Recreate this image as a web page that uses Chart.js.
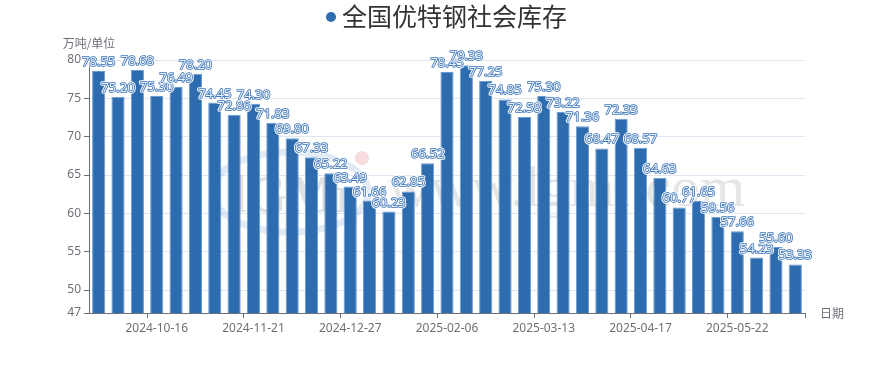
<!DOCTYPE html>
<html>
<head>
<meta charset="utf-8">
<script src="https://cdn.jsdelivr.net/npm/chart.js@4"></script>
<style>
  html, body { margin: 0; padding: 0; background: #fff; }
  #wrap { width: 894px; height: 384px; }
</style>
</head>
<body>
<div id="wrap"><canvas id="c" width="894" height="384"></canvas></div>
<script>
const titleText = "全国优特钢社会库存";
const yAxisName = "万吨/单位";
const xAxisName = "日期";
const categories = [
  "2024-09-19","2024-09-26","2024-10-10","2024-10-16","2024-10-24","2024-10-31","2024-11-07","2024-11-14",
  "2024-11-21","2024-11-28","2024-12-05","2024-12-12","2024-12-19","2024-12-27","2025-01-03","2025-01-09",
  "2025-01-16","2025-01-23","2025-02-06","2025-02-13","2025-02-20","2025-02-27","2025-03-06","2025-03-13",
  "2025-03-20","2025-03-27","2025-04-03","2025-04-10","2025-04-17","2025-04-24","2025-04-30","2025-05-08",
  "2025-05-15","2025-05-22","2025-05-29","2025-06-05","2025-06-12"
];
const stockValues = [
  78.55,75.20,78.68,75.30,76.49,78.20,74.45,72.86,74.30,71.83,69.80,67.33,65.22,63.49,61.66,60.23,
  62.85,66.52,78.45,79.33,77.25,74.85,72.58,75.30,73.22,71.36,68.47,72.33,68.57,64.63,60.77,61.65,
  59.56,57.66,54.23,55.60,53.33
];
const yTicks = [47,50,55,60,65,70,75,80];
const labelEvery = 5, labelOffset = 3;

const axisGrey = '#6e7079';
const barBlue = '#2d6cae';

const decorPlugin = {
  id: 'decor',
  beforeDatasetsDraw(chart) {
    const ctx = chart.ctx;
    ctx.save();
    // faint watermark
    ctx.globalAlpha = 0.3;
    ctx.strokeStyle = '#9fbbe0';
    ctx.lineWidth = 7;
    ctx.beginPath();
    ctx.ellipse(290, 192, 78, 40, 0, 0, Math.PI * 2);
    ctx.stroke();
    ctx.fillStyle = '#e88a96';
    ctx.beginPath(); ctx.arc(362, 158, 7, 0, Math.PI * 2); ctx.fill();
    ctx.fillStyle = '#9a9a9a';
    ctx.font = 'bold 52px "Liberation Serif"';
    ctx.textBaseline = 'alphabetic';
    ctx.textAlign = 'left';
    ctx.fillText('lGMi', 232, 212);
    ctx.globalAlpha = 0.22;
    ctx.fillStyle = '#8a8a8a';
    ctx.font = '58px "Liberation Serif"';
    ctx.fillText('www.lgmi.com', 388, 206);
    ctx.restore();
  },
  afterDatasetsDraw(chart) {
    const ctx = chart.ctx;
    const meta = chart.getDatasetMeta(0);
    const data = chart.data.datasets[0].data;
    ctx.save();
    ctx.font = '13px "Noto Sans", "Noto Sans CJK SC", sans-serif';
    ctx.textAlign = 'center';
    ctx.textBaseline = 'alphabetic';
    ctx.lineJoin = 'round';
    meta.data.forEach((bar, i) => {
      const t = data[i].toFixed(2);
      const x = bar.x, y = bar.y - 5;
      ctx.strokeStyle = '#ffffff';
      ctx.lineWidth = 3.5;
      ctx.strokeText(t, x, y);
      ctx.strokeStyle = '#3a73b6';
      ctx.lineWidth = 1.6;
      ctx.strokeText(t, x, y);
      ctx.fillStyle = '#e6eef9';
      ctx.fillText(t, x, y);
    });
    ctx.restore();
  },
  afterDraw(chart) {
    const ctx = chart.ctx;
    const area = chart.chartArea;
    ctx.save();
    // title legend
    ctx.font = '25px "Noto Sans CJK SC", sans-serif';
    ctx.textBaseline = 'middle';
    ctx.textAlign = 'left';
    const tw = ctx.measureText(titleText).width;
    const total = 11 + tw;
    const textX = chart.width / 2 - total / 2 + 11 + 2;
    ctx.fillStyle = barBlue;
    ctx.beginPath(); ctx.arc(textX - 11, 17, 5, 0, Math.PI * 2); ctx.fill();
    ctx.fillStyle = '#333333';
    ctx.fillText(titleText, textX, 16);
    // axis names
    ctx.font = '12px "Noto Sans CJK SC", sans-serif';
    ctx.fillStyle = axisGrey;
    ctx.textAlign = 'center';
    ctx.fillText(yAxisName, area.left, 43);
    ctx.textAlign = 'left';
    ctx.fillText(xAxisName, area.right + 15, area.bottom);
    ctx.restore();
  }
};

new Chart(document.getElementById('c'), {
  type: 'bar',
  data: {
    labels: categories,
    datasets: [{
      label: titleText,
      data: stockValues,
      backgroundColor: barBlue,
      borderColor: '#6b9bd2',
      borderWidth: 1,
      categoryPercentage: 1,
      barPercentage: 0.68
    }]
  },
  options: {
    responsive: false,
    animation: false,
    devicePixelRatio: 1,
    layout: { padding: { left: 0, right: 89, top: 60, bottom: 0 } },
    plugins: { legend: { display: false }, tooltip: { enabled: false }, title: { display: false } },
    scales: {
      x: {
        offset: true,
        afterFit(s) { s.height = 71; },
        grid: {
          offset: true,
          drawOnChartArea: false,
          drawTicks: true,
          tickLength: 5,
          color(c) {
            if (c.type !== 'tick') return axisGrey;
            return (c.index % labelEvery === labelOffset) ? axisGrey : 'rgba(0,0,0,0)';
          }
        },
        border: { display: true, color: axisGrey, width: 1 },
        ticks: {
          autoSkip: false,
          maxRotation: 0,
          minRotation: 0,
          padding: 3,
          color: axisGrey,
          font: { size: 12, family: '"Noto Sans", "Noto Sans CJK SC", sans-serif' },
          callback(v, i) { return (i % labelEvery === labelOffset) ? categories[i] : ''; }
        }
      },
      y: {
        min: 47,
        max: 80,
        afterFit(s) { s.width = 89; },
        afterBuildTicks(s) { s.ticks = yTicks.map(v => ({ value: v })); },
        grid: {
          color: '#e0e6f1',
          drawTicks: true,
          tickLength: 5,
          tickColor: axisGrey
        },
        border: { display: true, color: axisGrey, width: 1 },
        ticks: {
          padding: 3,
          color: axisGrey,
          font: { size: 12, family: '"Noto Sans", "Noto Sans CJK SC", sans-serif' }
        }
      }
    }
  },
  plugins: [decorPlugin]
});
</script>
</body>
</html>
